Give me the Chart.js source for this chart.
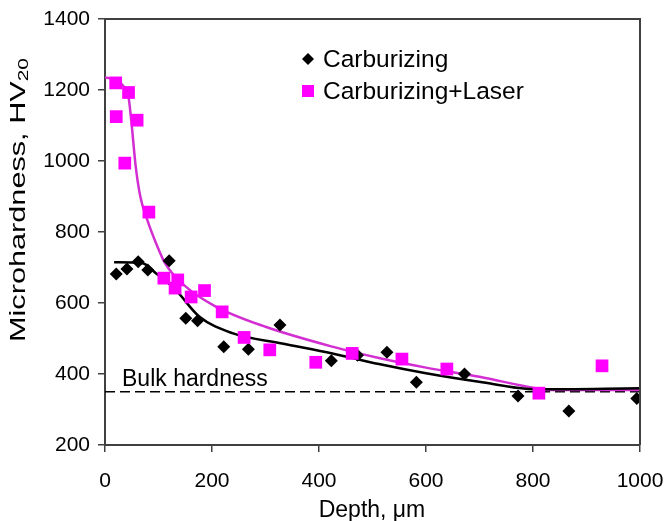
<!DOCTYPE html>
<html>
<head>
<meta charset="utf-8">
<script src="https://cdn.jsdelivr.net/npm/chart.js@4"></script>
<style>
  html,body{margin:0;padding:0;background:#fff;}
  #wrap{width:666px;height:521px;}
</style>
</head>
<body>
<div id="wrap"><canvas id="c" width="666" height="521"></canvas></div>
<script>
const carbDepth  = [21, 41, 62, 80, 120, 151, 173, 222, 268, 327, 423, 472, 527, 582, 672, 772, 867, 994];
const carbHard   = [682, 696, 716, 693, 719, 557, 550, 477, 470, 538, 437, 453, 461, 377, 400, 338, 296, 331];
const laserDepth = [20, 21, 37, 44, 60, 82, 110, 131, 136, 161, 186, 219, 260, 308, 394, 462, 555, 639, 811, 929];
const laserHard  = [1220, 1125, 994, 1193, 1115, 856, 670, 642, 665, 617, 635, 575, 503, 468, 433, 458, 442, 414, 346, 423];

// trend curves
const carbFitX  = [17, 70, 95, 132, 176, 238, 331, 425, 512, 600, 699, 805, 1000];
const carbFitY  = [715, 712, 684, 637, 562, 515, 486, 458, 428, 402, 378, 357, 360];
const laserFitX = [0, 20, 35, 44, 50, 57, 66, 79, 95, 113, 151, 207, 300, 425, 512, 600, 700, 805, 830, 1000];
const laserFitY = [1235, 1230, 1210, 1180, 1100, 990, 900, 834, 770, 710, 646, 590, 533, 477, 445, 418, 392, 360, 355, 355];

const bulkX = [0, 1000];
const bulkY = [350, 350];

const xTicks = [0, 200, 400, 600, 800, 1000];
const yTicks = [200, 400, 600, 800, 1000, 1200, 1400];

const FONT = 'Liberation Sans, Arial, sans-serif';
const AXIS = '#404040';
const PINK = '#ff00ff';
const PINK_LINE = '#d22ed2';

function pts(xs, ys) { return xs.map(function(x, i){ return {x:x, y:ys[i]}; }); }

const overlay = {
  id: 'overlay',
  afterDraw: function(chart) {
    const ctx = chart.ctx, a = chart.chartArea;
    ctx.save();
    // top + right frame
    ctx.strokeStyle = AXIS; ctx.lineWidth = 2;
    ctx.beginPath();
    ctx.moveTo(a.left, a.top); ctx.lineTo(a.right, a.top); ctx.lineTo(a.right, a.bottom);
    ctx.stroke();

    ctx.fillStyle = '#000';
    ctx.textBaseline = 'alphabetic';
    ctx.textAlign = 'left';
    // legend
    ctx.font = '24.5px ' + FONT;
    var lx = 308, ly1 = 59, ly2 = 91;
    ctx.beginPath();
    ctx.moveTo(lx, ly1 - 6); ctx.lineTo(lx + 6, ly1); ctx.lineTo(lx, ly1 + 6); ctx.lineTo(lx - 6, ly1);
    ctx.closePath(); ctx.fill();
    ctx.fillText('Carburizing', 323, 67);
    ctx.fillStyle = PINK;
    ctx.fillRect(lx - 6, ly2 - 6, 12, 12);
    ctx.fillStyle = '#000';
    ctx.fillText('Carburizing+Laser', 323, 99);

    // bulk label
    ctx.font = '23px ' + FONT;
    ctx.fillText('Bulk hardness', 122, 386);

    // x title
    ctx.textAlign = 'center';
    ctx.fillText('Depth, \u03bcm', 372, 517);

    // y title with subscript, stretched along its length like the source
    var main = 'Microhardness, HV', sub = '20';
    ctx.font = '22px ' + FONT;
    var w1 = ctx.measureText(main).width;
    ctx.font = '15px ' + FONT;
    var w2 = ctx.measureText(sub).width;
    var stretch = 284 / (w1 + w2);
    ctx.translate(25, 200);
    ctx.rotate(-Math.PI / 2);
    ctx.scale(stretch, 1);
    ctx.textAlign = 'left';
    var sx = -(w1 + w2) / 2;
    ctx.font = '22px ' + FONT;
    ctx.fillText(main, sx, 0);
    ctx.font = '15px ' + FONT;
    ctx.fillText(sub, sx + w1, 3);
    ctx.restore();
  }
};

new Chart(document.getElementById('c'), {
  type: 'scatter',
  data: {
    datasets: [
      {label:'Carburizing+Laser', data:pts(laserDepth, laserHard), pointStyle:'rect', pointRadius:9,
       backgroundColor:PINK, borderColor:PINK, borderWidth:0, showLine:false, order:0},
      {label:'Carburizing', data:pts(carbDepth, carbHard), pointStyle:'rectRot', pointRadius:6.5,
       backgroundColor:'#000', borderColor:'#000', borderWidth:0, showLine:false, order:1},
      {label:'fitCarb', data:pts(carbFitX, carbFitY), showLine:true, pointRadius:0, borderColor:'#000',
       borderWidth:2.5, cubicInterpolationMode:'monotone', fill:false, order:2},
      {label:'fitLaser', data:pts(laserFitX, laserFitY), showLine:true, pointRadius:0, borderColor:PINK_LINE,
       borderWidth:2.5, cubicInterpolationMode:'monotone', fill:false, order:3},
      {label:'bulk', data:pts(bulkX, bulkY), showLine:true, pointRadius:0, borderColor:'#000',
       borderWidth:1.3, borderDash:[10,5], fill:false, order:4}
    ]
  },
  options: {
    responsive:false, animation:false,
    layout:{padding:{top:19, right:26, left:0, bottom:0}},
    plugins:{legend:{display:false}, tooltip:{enabled:false}},
    scales:{
      x:{type:'linear', min:0, max:1000,
         afterBuildTicks:function(s){ s.ticks = xTicks.map(function(v){return {value:v};}); },
         afterFit:function(s){ s.height = 76; s.paddingLeft = 0; s.paddingRight = 0; },
         ticks:{font:{family:FONT, size:21}, color:'#000', padding:17, callback:function(v){ return String(v); }},
         grid:{drawOnChartArea:false, drawTicks:true, tickLength:7, color:AXIS, lineWidth:1.5},
         border:{display:true, color:AXIS, width:2}},
      y:{min:200, max:1400,
         afterBuildTicks:function(s){ s.ticks = yTicks.map(function(v){return {value:v};}); },
         afterFit:function(s){ s.width = 105; s.paddingTop = 0; s.paddingBottom = 0; },
         ticks:{font:{family:FONT, size:21}, color:'#000', padding:8, callback:function(v){ return String(v); }},
         grid:{drawOnChartArea:false, drawTicks:true, tickLength:7, color:AXIS, lineWidth:1.5},
         border:{display:true, color:AXIS, width:2}}
    }
  },
  plugins:[overlay]
});
</script>
</body>
</html>
